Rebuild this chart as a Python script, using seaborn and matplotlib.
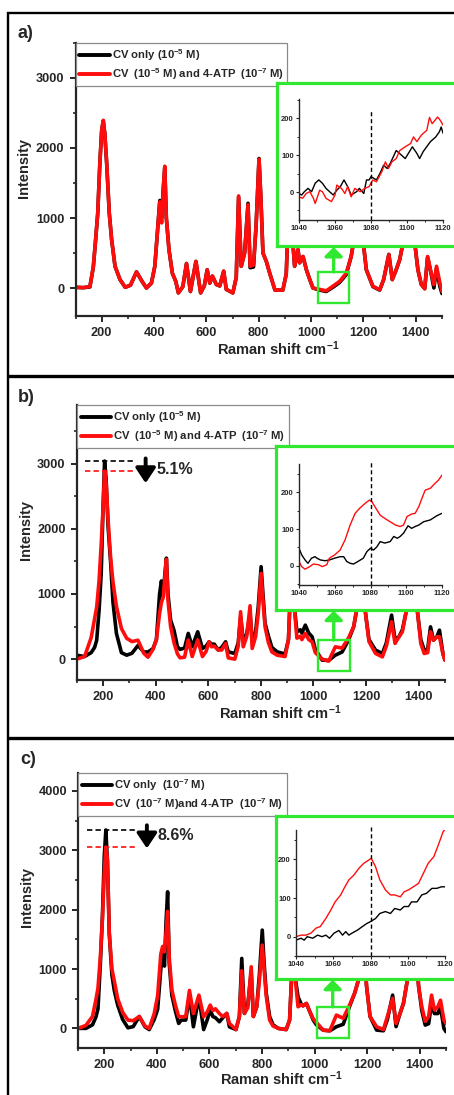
import matplotlib
matplotlib.use("Agg")
import matplotlib.pyplot as plt
import matplotlib.ticker as mticker
from matplotlib.lines import Line2D
from matplotlib.patches import Rectangle
import pandas as pd
import seaborn as sns

# ---------------------------------------------------------------- data
RAMAN_SHIFT = [100, 130, 155, 168, 176, 185, 193, 200, 206, 212,
               219, 229, 238, 251, 270, 290, 310, 333, 355, 371,
               390, 403, 415, 422, 429, 435, 441, 447, 457, 470,
               483, 493, 510, 524, 539, 560, 578, 592, 603, 613,
               623, 638, 651, 666, 676, 701, 714, 723, 733, 746,
               759, 767, 780, 790, 801, 808, 816, 829, 842, 862,
               892, 905, 912, 918, 925, 937, 950, 956, 969, 982,
               995, 1007, 1033, 1058, 1083, 1109, 1134, 1153, 1166, 1175,
               1185, 1198, 1211, 1236, 1262, 1277, 1297, 1310, 1325, 1338,
               1351, 1372, 1385, 1396, 1408, 1421, 1434, 1445, 1456, 1469,
               1479, 1492, 1500]

A_CV = [10, 5, 15, 300, 650, 1070, 1780, 2250, 2390, 2200,
        1780, 1070, 690, 310, 120, 10, 40, 230, 90, 0,
        70, 310, 900, 1250, 1000, 1400, 1720, 1000, 550, 210,
        95, -70, 20, 350, -50, 380, -70, 30, 260, 70,
        170, 50, 30, 240, -20, -70, 150, 1300, 310, 500,
        1210, 290, 300, 900, 1850, 1300, 500, 380, 210, -30,
        -30, 200, 900, 1600, 900, 310, 550, 360, 450, 260,
        120, 0, -30, -50, 10, 80, 190, 450, 740, 2600,
        1600, 690, 260, 20, -30, 120, 480, 120, 260, 400,
        640, 1900, 1200, 640, 260, 50, -10, 440, 250, 0,
        280, 20, -80]
A_MIX = [10, 5, 20, 300, 650, 1070, 1780, 2250, 2395, 2200,
         1800, 1070, 690, 310, 120, 10, 40, 230, 90, 0,
         70, 310, 900, 1230, 930, 1400, 1740, 1000, 550, 210,
         95, -70, 20, 350, -50, 380, -70, 30, 260, 70,
         170, 50, 30, 240, -20, -70, 150, 1315, 310, 500,
         1190, 310, 330, 900, 1840, 1300, 500, 380, 210, -30,
         -30, 200, 900, 1600, 900, 310, 550, 360, 450, 260,
         120, 0, -20, -40, 25, 95, 210, 450, 740, 2600,
         1600, 690, 260, 25, -25, 120, 480, 120, 260, 400,
         640, 1900, 1200, 640, 260, 50, -10, 450, 260, 50,
         310, 70, -50]

B_CV = [60, 40, 100, 180, 290, 750, 1300, 2300, 3040, 2750,
        2050, 1480, 870, 395, 100, 61, 90, 210, 110, 110,
        160, 300, 1000, 1200, 960, 1300, 1550, 1000, 600, 440,
        190, 150, 170, 395, 190, 420, 164, 200, 266, 230,
        230, 140, 180, 266, 112, 87, 250, 650, 300, 380,
        700, 300, 420, 800, 1418, 1000, 550, 350, 180, 112,
        80, 300, 1000, 2000, 900, 420, 450, 400, 522, 400,
        343, 150, -15, -20, 61, 110, 300, 500, 800, 2800,
        1500, 700, 300, 138, 87, 250, 676, 300, 343, 450,
        700, 2200, 1300, 700, 300, 138, 150, 496, 292, 343,
        445, 87, -15]
B_MIX = [0, 40, 330, 620, 800, 1200, 1750, 2300, 2885, 2700,
         2150, 1550, 1180, 810, 470, 320, 270, 290, 90, 30,
         150, 300, 700, 870, 950, 1250, 1530, 900, 500, 250,
         80, 20, 30, 292, 40, 292, 40, 120, 266, 190,
         200, 140, 140, 240, 20, 0, 200, 727, 189, 343,
         819, 164, 343, 700, 1316, 900, 496, 250, 110, 61,
         40, 300, 1000, 2000, 900, 322, 350, 300, 395, 300,
         266, 100, 0, -30, 189, 170, 330, 500, 800, 2800,
         1500, 700, 270, 87, 35, 200, 573, 241, 343, 420,
         700, 2200, 1300, 700, 241, 87, 100, 420, 292, 343,
         343, 87, -15]

C_CV = [0, 0, 60, 190, 330, 1080, 1900, 2900, 3340, 2800,
        1600, 900, 640, 390, 150, 10, 30, 200, 27, -20,
        150, 320, 1000, 1250, 1050, 1800, 2300, 1100, 560, 300,
        84, 140, 140, 560, 27, 532, -20, 150, 308, 200,
        180, 112, 180, 252, 27, -20, 200, 1178, 252, 400,
        950, 200, 364, 900, 1655, 1100, 600, 200, 60, 0,
        -20, 140, 800, 2000, 900, 532, 400, 380, 420, 280,
        140, 60, -30, -40, 28, 70, 380, 600, 800, 2800,
        1500, 700, 200, -28, -40, 150, 560, 30, 250, 420,
        760, 2200, 1300, 700, 300, 56, 80, 420, 250, 250,
        364, 0, -56]
C_MIX = [0, 50, 200, 480, 680, 1200, 1850, 2600, 3053, 2850,
         1600, 1000, 800, 500, 270, 140, 130, 200, 40, 0,
         250, 550, 1250, 1380, 1290, 1600, 1970, 1200, 650, 400,
         200, 195, 200, 640, 250, 560, 195, 280, 392, 300,
         330, 250, 200, 252, 84, -20, 200, 970, 252, 350,
         1037, 200, 364, 800, 1402, 1000, 550, 140, 40, 0,
         -20, 140, 800, 2000, 900, 364, 400, 380, 420, 280,
         160, 100, -30, -40, 224, 170, 400, 600, 800, 2800,
         1500, 700, 200, 28, -20, 200, 505, 84, 250, 420,
         760, 2200, 1300, 700, 364, 120, 200, 560, 308, 364,
         475, 140, 84]

# zoomed 1040-1120 cm-1 window
INSET_A_CV_X = [1040, 1041.5, 1043, 1045, 1047, 1049, 1051, 1053, 1055, 1057,
                1059, 1061, 1063, 1065, 1067, 1069, 1072, 1073.5, 1076, 1077.5,
                1079, 1080, 1083, 1085, 1087, 1089, 1090.6, 1094, 1097, 1099,
                1103, 1105.5, 1107, 1109, 1113, 1116, 1118, 1119, 1120]
INSET_A_CV_Y = [-4, -8, 1, 10, 1, 24, 33, 24, 10, 1,
                -8, 5, 15, 33, 15, -8, 1, 10, -4, 33,
                33, 42, 33, 51, 73, 64, 77, 113, 100, 91,
                123, 105, 91, 110, 137, 150, 164, 177, 160]
INSET_A_MIX_X = [1040, 1042, 1044, 1046, 1048, 1049, 1051.5, 1053, 1055, 1058,
                 1060, 1061, 1063.6, 1065.5, 1067, 1069, 1071, 1074, 1076.6, 1079,
                 1081, 1083, 1086, 1088, 1089.7, 1091.6, 1094, 1096, 1099, 1102,
                 1103.6, 1105.5, 1108, 1111, 1112.5, 1114, 1117, 1118.5, 1120]
INSET_A_MIX_Y = [-13, -17, -4, 1, -17, -31, 5, 1, -17, -26,
                 -8, 19, 10, -4, 15, -13, 10, 1, 10, 15,
                 33, 28, 55, 82, 64, 82, 91, 113, 123, 132,
                 150, 137, 155, 168, 203, 186, 204, 195, 182]

INSET_B_CV_X = [1040, 1041.5, 1043.4, 1045, 1047, 1049, 1050, 1052, 1054.6, 1057,
                1060, 1063, 1065, 1066.7, 1068.6, 1070.5, 1073, 1076, 1078, 1080,
                1081.7, 1083.6, 1085.4, 1088, 1091, 1093, 1095, 1096.6, 1098.5, 1101,
                1103, 1105, 1107, 1109.7, 1113.5, 1117, 1120]
INSET_B_CV_Y = [48, 30, 16, 7, 21, 25, 21, 16, 14, 16,
                21, 25, 25, 12, 7, 5, 12, 21, 39, 48,
                43, 52, 66, 62, 66, 80, 75, 80, 89, 109,
                102, 107, 111, 120, 125, 136, 143]
INSET_B_MIX_X = [1040, 1041.5, 1043.4, 1046, 1048, 1051, 1053, 1055.5, 1057, 1060,
                 1063, 1065.8, 1068.6, 1071.4, 1074, 1077, 1079.4, 1080.7, 1083.6, 1085.4,
                 1088, 1091, 1094, 1096.6, 1098.5, 1100.4, 1103, 1105, 1107, 1108.8,
                 1110.6, 1113.5, 1116, 1118, 1120]
INSET_B_MIX_Y = [12, -2, -9, -2, 5, 3, -2, 3, 21, 30,
                 43, 71, 111, 143, 157, 170, 179, 175, 152, 138,
                 129, 120, 111, 107, 111, 134, 141, 143, 161, 184,
                 206, 211, 224, 233, 247]

INSET_C_CV_X = [1040, 1042.7, 1044.4, 1046, 1049, 1051.6, 1054, 1056, 1058, 1060.4,
                1063, 1065, 1066.7, 1068.4, 1070, 1073, 1075.6, 1078, 1080, 1082.7,
                1085, 1088, 1090.7, 1093, 1096, 1098, 1100.4, 1102, 1105, 1107.5,
                1110, 1113, 1115.6, 1118, 1120]
INSET_C_CV_Y = [-9, -4, -9, 0, -4, 4, 0, 4, -4, 9,
                16, 4, 13, 4, 9, 17, 26, 34, 39, 47,
                60, 65, 60, 73, 69, 78, 78, 90, 90, 108,
                112, 125, 125, 129, 129]
INSET_C_MIX_X = [1040, 1042.7, 1045.3, 1048, 1050.7, 1053, 1056, 1058.7, 1061, 1064,
                 1065.8, 1068.4, 1071, 1073.8, 1076.4, 1079, 1080.4, 1082.7, 1085, 1088,
                 1090.7, 1093, 1096, 1098, 1100.4, 1103, 1105.8, 1108.4, 1111, 1114,
                 1116.4, 1119, 1120]
INSET_C_MIX_Y = [0, 4, 4, 9, 22, 26, 47, 69, 90, 108,
                 125, 147, 159, 177, 190, 198, 203, 181, 147, 121,
                 108, 108, 103, 116, 121, 129, 138, 164, 190, 207,
                 237, 272, 276]

LABELS_A = [r"CV only (10$^{-5}$ M)", r"CV  (10$^{-5}$ M) and 4-ATP  (10$^{-7}$ M)"]
LABELS_B = [r"CV only (10$^{-5}$ M)", r"CV  (10$^{-5}$ M) and 4-ATP  (10$^{-7}$ M)"]
LABELS_C = [r"CV only  (10$^{-7}$ M)", r"CV  (10$^{-7}$ M)and 4-ATP  (10$^{-7}$ M)"]

# ---------------------------------------------------------------- style
sns.set_style("ticks")
plt.rcParams['font.family'] = ['Liberation Sans', 'DejaVu Sans']
plt.rcParams['font.weight'] = 'bold'
plt.rcParams['axes.labelweight'] = 'bold'
plt.rcParams['mathtext.fontset'] = 'custom'
plt.rcParams['mathtext.rm'] = 'Liberation Sans:bold'
plt.rcParams['mathtext.bf'] = 'Liberation Sans:bold'
plt.rcParams['mathtext.it'] = 'Liberation Sans:bold:italic'
plt.rcParams['mathtext.default'] = 'rm'

GREEN = '#30e830'
RED = '#ff0d0d'
W, H = 454, 1095

fig = plt.figure(figsize=(W / 100, H / 100), dpi=100)
fig.patch.set_facecolor('white')


def box(x0, y0, x1, y1):
    return [x0 / W, 1 - y1 / H, (x1 - x0) / W, (y1 - y0) / H]


def fig_line(xs, ys, lw):
    fig.add_artist(Line2D([x / W for x in xs], [1 - y / H for y in ys],
                          color='black', lw=lw, transform=fig.transFigure,
                          solid_capstyle='butt'))


PANELS = [
    dict(tag='a)', cv=A_CV, mix=A_MIX, labels=LABELS_A,
         ins=(INSET_A_CV_X, INSET_A_CV_Y, INSET_A_MIX_X, INSET_A_MIX_Y),
         main=(75.5, 43, 442, 316), ylim=(-400, 3500), ymax_tick=3000,
         frame=(277, 83, 480, 246), inset=(299, 99, 443, 220),
         inset_ylim=(-76, 253), vline_top=225,
         zoom=(1025, -210, 1145, 230), arrow_x=1086,
         tag_xy=(17, 25), ylab=(24, 168), xlab=(278, 355), peak=None),
    dict(tag='b)', cv=B_CV, mix=B_MIX, labels=LABELS_B,
         ins=(INSET_B_CV_X, INSET_B_CV_Y, INSET_B_MIX_X, INSET_B_MIX_Y),
         main=(76.7, 405, 445, 680), ylim=(-320, 3900), ymax_tick=3000,
         frame=(275.7, 446.3, 480, 609.7), inset=(299, 464, 442, 585),
         inset_ylim=(-52, 277), vline_top=283,
         zoom=(1016, -184, 1138, 292), arrow_x=1077,
         tag_xy=(18, 389), ylab=(26, 530), xlab=(280, 719),
         peak=dict(span=(130, 320), arrow=(362, 3080, 2700), text=(405, 2903))),
    dict(tag='c)', cv=C_CV, mix=C_MIX, labels=LABELS_C,
         ins=(INSET_C_CV_X, INSET_C_CV_Y, INSET_C_MIX_X, INSET_C_MIX_Y),
         main=(78, 773, 446, 1048), ylim=(-330, 4300), ymax_tick=4000,
         frame=(275.7, 815.7, 480, 978.8), inset=(296, 830, 445, 956),
         inset_ylim=(-50, 276), vline_top=284,
         zoom=(1008, -163, 1130, 364), arrow_x=1069,
         tag_xy=(20, 751), ylab=(26.7, 897), xlab=(281, 1085),
         peak=dict(span=(134, 324), arrow=(362, 3420, 3030), text=(404, 3254))),
]

for p in PANELS:
    ax = fig.add_axes(box(*p['main']))
    spec = pd.DataFrame({'shift': RAMAN_SHIFT, 'cv': p['cv'], 'mix': p['mix']})
    sns.lineplot(data=spec, x='shift', y='cv', ax=ax, color='black', lw=2.6,
                 sort=False, estimator=None, label=p['labels'][0])
    sns.lineplot(data=spec, x='shift', y='mix', ax=ax, color=RED, lw=2.6,
                 sort=False, estimator=None, label=p['labels'][1])
    ax.set_xlim(100, 1500)
    ax.set_ylim(*p['ylim'])
    ax.set_xticks(range(200, 1401, 200))
    ax.xaxis.set_minor_locator(mticker.MultipleLocator(100))
    ax.set_yticks(range(0, p['ymax_tick'] + 1, 1000))
    ax.yaxis.set_minor_locator(mticker.MultipleLocator(500))
    ax.set_xlabel('')
    ax.set_ylabel('')
    sns.despine(ax=ax)
    for s in ('left', 'bottom'):
        ax.spines[s].set_linewidth(1.6)
    ax.tick_params(which='major', direction='out', length=4, width=1.4,
                   labelsize=9.2, pad=4)
    ax.tick_params(which='minor', direction='out', length=2.5, width=1.2)

    leg = ax.legend(loc='upper left', bbox_to_anchor=(0, 1), borderaxespad=0,
                    frameon=True, fancybox=False, edgecolor='#8a8a8a',
                    framealpha=1, fontsize=8.1, handlelength=2.7,
                    handletextpad=0.15, labelspacing=0.3, borderpad=0.35)
    leg.get_frame().set_linewidth(0.9)
    for ln in leg.get_lines():
        ln.set_linewidth(2.8)

    # marked window and pointer to the zoomed view
    zx0, zy0, zx1, zy1 = p['zoom']
    ax.add_patch(Rectangle((zx0, zy0), zx1 - zx0, zy1 - zy0, fill=False,
                           ec=GREEN, lw=1.7, zorder=6))
    ax.annotate('', xy=(p['arrow_x'], 1 - (p['frame'][3] + 1) / H),
                xycoords=('data', 'figure fraction'),
                xytext=(p['arrow_x'], zy1), textcoords='data',
                arrowprops=dict(arrowstyle='-|>,head_length=0.27,head_width=0.27',
                                color=GREEN, lw=2.4, shrinkA=0, shrinkB=0,
                                mutation_scale=20), annotation_clip=False)

    # peak height comparison
    if p['peak']:
        pk = p['peak']
        top_cv = max(p['cv'])
        top_mix = max(p['mix'])
        ax.plot(pk['span'], [top_cv, top_cv], color='black', lw=1.2,
                ls=(0, (3.2, 1.9)))
        ax.plot(pk['span'], [top_mix, top_mix], color=RED, lw=1.2,
                ls=(0, (3.2, 1.9)))
        axx, ay0, ay1 = pk['arrow']
        ax.annotate('', xy=(axx, ay1), xytext=(axx, ay0),
                    arrowprops=dict(arrowstyle='-|>,head_length=0.45,head_width=0.3',
                                    color='black', lw=2.8, shrinkA=0, shrinkB=0,
                                    mutation_scale=20))
        drop = (1 - top_mix / top_cv) * 100
        ax.text(pk['text'][0], pk['text'][1], f"{drop:.1f}%", fontsize=11.5,
                fontweight='bold', ha='left', va='center')

    # green frame holding the zoomed view
    fa = fig.add_axes(box(*p['frame']))
    fa.set_facecolor('white')
    fa.set_xticks([])
    fa.set_yticks([])
    for sp in fa.spines.values():
        sp.set_color(GREEN)
        sp.set_linewidth(2.3)

    ia = fig.add_axes(box(*p['inset']))
    cvx, cvy, mxx, mxy = p['ins']
    sns.lineplot(x=cvx, y=cvy, ax=ia, color='black', lw=1.0, sort=False,
                 estimator=None)
    sns.lineplot(x=mxx, y=mxy, ax=ia, color=RED, lw=1.0, sort=False,
                 estimator=None)
    ia.set_xlim(1040, 1120)
    ia.set_ylim(*p['inset_ylim'])
    ia.plot([1080, 1080], [p['inset_ylim'][0], p['vline_top']], color='black',
            lw=1.0, ls=(0, (3, 2)), clip_on=False)
    ia.set_xticks(range(1040, 1121, 20))
    ia.xaxis.set_minor_locator(mticker.MultipleLocator(10))
    ia.set_yticks([0, 100, 200])
    ia.yaxis.set_minor_locator(mticker.MultipleLocator(50))
    sns.despine(ax=ia)
    for s in ('left', 'bottom'):
        ia.spines[s].set_linewidth(1.0)
    ia.tick_params(which='major', direction='out', length=2.2, width=0.8,
                   labelsize=5.5, pad=1.5)
    ia.tick_params(which='minor', direction='out', length=1.3, width=0.7)
    ia.patch.set_alpha(0)

    fig.text(p['tag_xy'][0] / W, 1 - p['tag_xy'][1] / H, p['tag'],
             fontsize=13, fontweight='bold', ha='left', va='top')
    fig.text(p['ylab'][0] / W, 1 - p['ylab'][1] / H, 'Intensity', rotation=90,
             fontsize=10.5, fontweight='bold', ha='center', va='center')
    fig.text(p['xlab'][0] / W, 1 - p['xlab'][1] / H, r'Raman shift cm$^{-1}$',
             fontsize=10.5, fontweight='bold', ha='center', va='baseline')

# panel borders
fig_line([8, 8], [11.5, H], 1.7)
fig_line([7, W], [12.5, 12.5], 1.7)
fig_line([7, W], [375.5, 375.5], 2.4)
fig_line([7, W], [738, 738], 2.4)

fig.savefig('out.png', dpi=100, facecolor='white')
